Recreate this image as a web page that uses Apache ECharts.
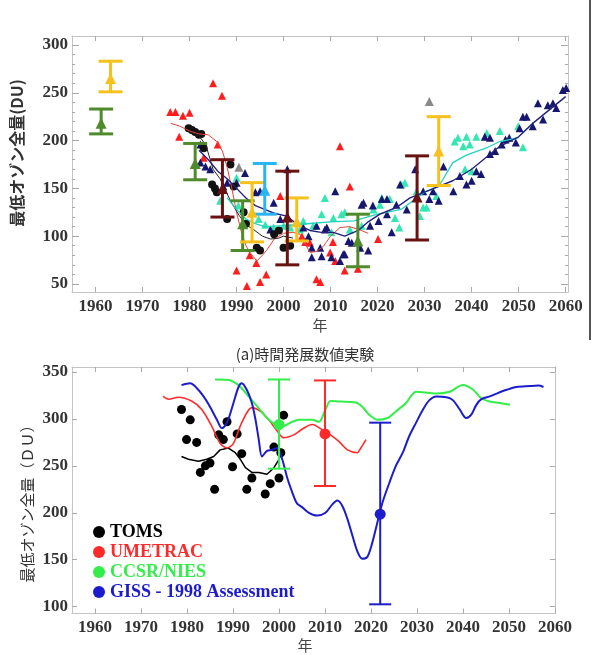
<!DOCTYPE html>
<html><head><meta charset="utf-8">
<script src="https://cdn.jsdelivr.net/npm/echarts@6/dist/echarts.min.js"></script>
<style>html,body{margin:0;padding:0;background:#fff}#c{width:592px;height:655px}</style>
</head><body><div id="c"></div>
<script>
// ---------- tick labels ----------
const xTickYears = [1960,1970,1980,1990,2000,2010,2020,2030,2040,2050,2060];
const topYTicks = [50,100,150,200,250,300];
const topYMinorTicks = [50,60,70,80,90,100,110,120,130,140,150,160,170,180,190,200,210,220,230,240,250,260,270,280,290,300];
const bottomYTicks = [100,150,200,250,300,350];

// ---------- panel (a): scatter [year, DU] ----------
const topRedTri = [[1975.9,230],[1977,230],[1978.6,226],[1980,229],[1977.8,204],[1985,260],[1986.9,247],[1986,196],[1983,182],
  [1990,64],[1992.2,48],[1995,52],[1996.3,60],[1994.2,72],[1992.8,80],[1999.3,142],
  [2003.9,100],[2004.6,94],[2005.6,93],[2007,55],[2007.8,52],[2009.9,83],[2010.5,94],[2011,74],[2012,194],[2013,64],[2014.1,152],[2015.8,66],[2020.1,97]];
const topNavyTri = [[1982.3,177],[1982.3,196],[1983.4,173],[1984.4,170],[1987.2,152],[1988,156],[1990,156],[1991.8,166],[1994,146],[1995,147],
  [1997.2,107],[1997.9,135],[1999.3,118],[2000.8,170],[2004.2,109],[2005.3,100],[2006,78],[2006,88],[2007,111],[2007.8,88],[2008.1,79],
  [2008.8,107],[2009.2,109],[2010.2,78],[2011,147],[2012,74],[2012.7,81],[2013,81],[2013.8,95],[2014.5,93],[2016.3,88],[2016.6,133],
  [2017,135],[2018,85],[2018.4,111],[2019,132],[2020.2,116],[2020.9,139],[2022,123],[2022,139],[2023,104],[2024,133],[2024.8,154],
  [2026.2,128],[2028,170],[2029.7,147],[2031,139],[2031.8,147],[2033,137],[2034,173],[2036.1,147],[2037.5,163],[2038.9,154],[2040,158],
  [2041,168],[2042,165],[2042.8,204],[2043.9,186],[2043.9,203],[2045,189],[2046.4,196],[2047.2,201],[2048,203],[2049.4,198],[2050.2,213],
  [2050.9,225],[2051.7,225],[2053,215],[2054.1,239],[2055.2,222],[2056.2,237],[2057.3,239],[2058,234],[2059.4,253],[2060.1,255]];
const topAquaTri = [[1986.5,137],[1990,161],[1990.4,132],[1994.7,118],[1996.1,112],[1997.9,109],[2000,111],[2001.4,109],[2003.5,107],
  [2004.2,116],[2006.3,111],[2008.1,123],[2008.8,140],[2010.2,104],[2010.6,119],[2012.3,123],[2013,125],[2014.1,107],[2016.6,111],
  [2019.1,128],[2020.5,133],[2020.9,140],[2022.6,139],[2023.7,119],[2024.6,109],[2025.1,154],[2025.8,156],[2028.3,147],[2029,121],
  [2029.7,130],[2030.4,130],[2032.5,142],[2036.4,199],[2037.1,203],[2038.2,194],[2038.9,204],[2038.6,170],[2040,168],[2039.6,196],
  [2041,204],[2043.2,208],[2046,210],[2049.9,215],[2050.9,193]];
const topBlackDots = [[1979.8,213],[1980.5,211],[1981.2,209],[1982,206],[1982.5,207],[1983,192],[1984.8,154],[1985.4,150],[1985.8,146],
  [1988.7,175],[1988,118],[1989.4,152],[1991.5,125],[1992,113],[1994.3,88],[1995,85],[1998,102],[1999,106],[2000,88],[2001.4,90]];
const topGrayTri = [[1990.5,172],[2031,241]];

// ---------- panel (a): lines ----------
const topRedLine = [[1976,218],[1978,215],[1980,210],[1982,207],[1984,206],[1985.8,199],[1987,189],[1988,172],[1989,150],[1990,125],
  [1991,105],[1992,90],[1993,82],[1994.3,74],[1995.5,80],[1996.5,86],[1998,97],[2000,103],[2002,104],[2003.5,102],[2005.6,83],
  [2007,84],[2008.4,89],[2010,100],[2012,109],[2014,110],[2016,107],[2018,103]];
const topBlackLine = [[1980.5,208],[1982,205],[1983.5,195],[1985,170],[1986.5,160],[1988.7,137],[1990.5,122],[1992,112],[1993.6,107],
  [1995.5,100],[1997.2,97],[1999,98],[2000,100],[2002,98]];
const topNavyLine = [[1982,190],[1984,180],[1986,168],[1988,160],[1990,150],[1992,140],[1994,132],[1996,128],[1998,124],[2000.7,121],
  [2003,112],[2005.6,106],[2008,104],[2010.6,104],[2013,100],[2015.9,106],[2018,115],[2020.5,123],[2024,130],[2026.9,140],[2030,146],
  [2033,152],[2036,158],[2040,170],[2043,182],[2046,194],[2050,204],[2053,218],[2056,230],[2060,246]];
const topAquaLine = [[1988,140],[1990,128],[1992,118],[1994,113],[1996,110],[2000,111],[2005,113],[2010,115],[2015,116],[2020,123],
  [2025,128],[2030,146],[2033,152],[2036,177],[2039,185],[2043,192],[2046,199],[2050,203]];

// ---------- panel (a): error bars [year, low, mid, high] ----------
const oliveErr = [[1961.2,207,218,233],[1981.2,159,176,197],[1991.3,85,113,137],[2015.8,68,95,123]];
const goldErr = [[1963.2,251,265,283],[1993.3,94,125,156],[2002.8,95,115,140],[2033,153,189,225]];
const maroonErr = [[1987,120,150,180],[2000.8,70,120,168],[2028.4,96,141,184]];
const skyErr = [[1996,123,148,176]];

// ---------- panel (b) ----------
const tomsDots = [[1978.8,310],[1980.7,299],[1979.9,278],[1982.1,275],[1982.9,243],[1984,250],[1985,253],[1986,225],[1986.9,283],
  [1987.9,278],[1988.7,297],[1989.9,249],[1990.9,284],[1991.9,263],[1993,225],[1994.1,237],[1997,220],[1998.1,231],[1998.9,270],
  [2000,237],[2000.4,264],[2001,304]];
const tomsLine = [[1978.8,260],[1980.3,257],[1982.5,255],[1984.3,257],[1985.8,260],[1987.2,267],[1989,269],[1990.5,264],[1991.6,257],
  [1992.7,248],[1994.1,243],[1995.6,243],[1997.4,241],[1998.9,248],[2000,257],[2000.7,267]];
const umetracLine = [[1974.8,324],[1976,321],[1978.1,323],[1981,319],[1983.2,310],[1985.4,292],[1987.2,274],[1988.7,269],[1990.1,274],
  [1991.9,296],[1994.1,312],[1996,308],[1997.8,299],[1999.6,287],[2001,280],[2003.2,283],[2005,289],[2007.2,294],[2009.8,287],
  [2011.2,283],[2013,276],[2014.9,267],[2017,264],[2017.8,269],[2018.9,278]];
const ccsrLine = [[1986.1,342],[1989,341.5],[1991.2,336],[1993.4,324],[1995.6,311.5],[1997.4,301],[1999.2,294],[2000.7,292],[2002.9,297],
  [2004.3,299],[2007.2,299],[2008.7,297],[2010.1,310],[2011.2,319],[2013.4,318.5],[2016.7,317.5],[2018.1,313],[2019.6,304.5],
  [2021.4,299],[2023.6,301],[2025.4,308],[2027.6,317],[2029.8,329],[2034.2,327],[2037.1,329],[2040,336],[2042.2,331],[2044,322],
  [2045.8,318.5],[2048,317],[2050.2,315]];
const gissLine = [[1978.8,336],[1980.7,338],[1982.1,333],[1983.6,324],[1985,313],[1986.5,299],[1987.6,290],[1988.7,296],[1990.1,317],
  [1991.2,334],[1991.9,338],[1993,331],[1994.1,317],[1994.9,299],[1995.6,278],[1996.3,260],[1997.4,266],[1998.5,267],[1999.6,269],
  [2000.7,257],[2001.8,237],[2002.9,221.5],[2003.9,210],[2005,206],[2006.5,200],[2008.3,197],[2010.1,200],[2011.6,209],[2012.7,213],
  [2013.8,207],[2014.9,193],[2016,175],[2017.1,158],[2018.1,151],[2019.2,153],[2020.3,168.5],[2021.4,190],[2022.5,211],[2024,232],
  [2025.4,250],[2026.9,264],[2028.3,281.5],[2029.8,296],[2031.3,310],[2032.7,320],[2034.2,324],[2036.4,323],[2037.8,320],[2039.3,310],
  [2040.7,301],[2041.8,304.5],[2042.9,315],[2044,321],[2045.8,324],[2047.3,327],[2049.5,331],[2051.6,334],[2054.5,335],[2056.4,335.5],[2057.5,334]];
const ccsrErr = [[2000,247,294,342]];
const umetracErr = [[2010,228.5,284,341]];
const gissErr = [[2022,102.5,198.5,296]];

// ---------- chart ----------
const chart = echarts.init(document.getElementById('c'), null, {renderer:'canvas'});
const SERIF = 'Liberation Serif';
const frame = '#c4c4c4';
const tickLabel = {show:true, formatter:v => '{t|' + Math.round(v) + '}',
  rich:{t:{fontFamily:SERIF, fontWeight:'bold', fontSize:17, color:'#333'}}};

function xAx(grid, min, max) {
  return [
    {type:'value', gridIndex:grid, min, max, position:'bottom',
      axisLine:{show:true, lineStyle:{color:frame}},
      axisTick:{show:true, inside:true, length:5, customValues:xTickYears, lineStyle:{color:'#aaa'}},
      axisLabel:Object.assign({customValues:xTickYears, margin:6}, tickLabel),
      splitLine:{show:false}},
    {type:'value', gridIndex:grid, min, max, position:'top',
      axisLine:{show:true, lineStyle:{color:frame}},
      axisTick:{show:true, inside:true, length:5, customValues:xTickYears, lineStyle:{color:'#aaa'}},
      axisLabel:{show:false}, splitLine:{show:false}}
  ];
}
function yAux(grid, min, max, pos, vals, len, line) {
  return {type:'value', gridIndex:grid, min, max, position:pos,
    axisLine:{show:line, lineStyle:{color:frame}},
    axisTick:{show:true, inside:true, length:len, customValues:vals, lineStyle:{color:'#aaa'}},
    axisLabel:{show:false}, splitLine:{show:false}};
}

const TOPMIN = 41.6, TOPMAX = 309.4, BOTMIN = 92.7, BOTMAX = 355.3;

const xAxes = [...xAx(0, 1955, 2060.5), ...xAx(1, 1955, 2060)];
const yAxes = [
  {type:'value', gridIndex:0, min:TOPMIN, max:TOPMAX, position:'left',
    axisLine:{show:true, lineStyle:{color:frame}},
    axisTick:{show:true, inside:true, length:7, customValues:topYTicks, lineStyle:{color:'#aaa'}},
    axisLabel:Object.assign({customValues:topYTicks, margin:4}, tickLabel),
    splitLine:{show:false}},
  yAux(0, TOPMIN, TOPMAX, 'left', topYMinorTicks, 3, false),
  yAux(0, TOPMIN, TOPMAX, 'right', topYMinorTicks, 3, true),
  yAux(0, TOPMIN, TOPMAX, 'right', topYTicks, 7, false),
  {type:'value', gridIndex:1, min:BOTMIN, max:BOTMAX, position:'left',
    axisLine:{show:true, lineStyle:{color:frame}},
    axisTick:{show:true, inside:true, length:5, customValues:bottomYTicks, lineStyle:{color:'#aaa'}},
    axisLabel:Object.assign({customValues:bottomYTicks, margin:4}, tickLabel),
    splitLine:{show:false}},
  yAux(1, BOTMIN, BOTMAX, 'right', bottomYTicks, 5, true)
];

function scatter(name, data, color, symbol, size, xi, yi, z) {
  return {type:'scatter', name, data, xAxisIndex:xi, yAxisIndex:yi, symbol, symbolSize:size,
    itemStyle:{color, opacity:1}, z:z||2, silent:true};
}
function line(name, data, color, width, xi, yi, smooth) {
  return {type:'line', name, data, xAxisIndex:xi, yAxisIndex:yi, showSymbol:false, symbol:'none',
    smooth: smooth||0, lineStyle:{color, width}, itemStyle:{color}, z:3, silent:true};
}
function errBars(name, data, color, lw, cap, xi, yi) {
  return {type:'custom', name, data, xAxisIndex:xi, yAxisIndex:yi, z:6, silent:true,
    encode:{x:0, y:[1,3]},
    renderItem:function(params, api){
      const x = api.value(0), lo = api.value(1), hi = api.value(3);
      const a = api.coord([x, lo]), b = api.coord([x, hi]);
      const st = {stroke:color, lineWidth:lw};
      return {type:'group', children:[
        {type:'line', shape:{x1:a[0], y1:a[1], x2:b[0], y2:b[1]}, style:st},
        {type:'line', shape:{x1:a[0]-cap, y1:a[1], x2:a[0]+cap, y2:a[1]}, style:st},
        {type:'line', shape:{x1:b[0]-cap, y1:b[1], x2:b[0]+cap, y2:b[1]}, style:st}
      ]};
    }};
}
const mid = d => d.map(r => [r[0], r[2]]);

const C = {red:'#ff1e1e', navy:'#16166e', aqua:'#33e6b2', gray:'#8a8a8a', black:'#111',
  olive:'#4f8a2b', gold:'#f6c11c', maroon:'#6a1212', sky:'#2ab4f2',
  lred:'#e8433a', lnavy:'#22227e', laqua:'#22d2c0', lblack:'#222',
  bRed:'#ff2a2a', bGreen:'#33ee4a', bBlue:'#1c1ccc', bBlack:'#000'};

const series = [
  scatter('a-red', topRedTri, C.red, 'triangle', 8, 0, 0),
  scatter('a-aqua', topAquaTri, C.aqua, 'triangle', 8, 0, 0),
  scatter('a-navy', topNavyTri, C.navy, 'triangle', 8, 0, 0),
  scatter('a-black', topBlackDots, C.black, 'circle', 8, 0, 0),
  scatter('a-gray', topGrayTri, C.gray, 'triangle', 9, 0, 0),
  line('a-redline', topRedLine, C.lred, 1, 0, 0),
  line('a-blackline', topBlackLine, C.lblack, 1, 0, 0),
  line('a-aqualine', topAquaLine, C.laqua, 1.3, 0, 0),
  line('a-navyline', topNavyLine, C.lnavy, 1.4, 0, 0),
  errBars('a-olive-err', oliveErr, C.olive, 3, 12, 0, 0),
  errBars('a-gold-err', goldErr, C.gold, 3, 12, 0, 0),
  errBars('a-maroon-err', maroonErr, C.maroon, 3, 12, 0, 0),
  errBars('a-sky-err', skyErr, C.sky, 3, 12, 0, 0),
  scatter('a-olive-mid', mid(oliveErr), C.olive, 'triangle', 11, 0, 0, 7),
  scatter('a-gold-mid', mid(goldErr), C.gold, 'triangle', 11, 0, 0, 7),
  scatter('a-maroon-mid', mid(maroonErr), C.maroon, 'triangle', 11, 0, 0, 7),
  scatter('a-sky-mid', mid(skyErr), C.sky, 'triangle', 11, 0, 0, 7),

  scatter('TOMS', tomsDots, C.bBlack, 'circle', 9, 2, 4),
  line('TOMS', tomsLine, C.bBlack, 1.5, 2, 4),
  line('UMETRAC', umetracLine, C.bRed, 1.6, 2, 4, 0.3),
  line('CCSR/NIES', ccsrLine, C.bGreen, 2, 2, 4, 0.3),
  line('GISS - 1998 Assessment', gissLine, C.bBlue, 2, 2, 4, 0.3),
  errBars('b-ccsr-err', ccsrErr, C.bGreen, 2, 11, 2, 4),
  errBars('b-umetrac-err', umetracErr, C.bRed, 2, 11, 2, 4),
  errBars('b-giss-err', gissErr, C.bBlue, 2, 11, 2, 4),
  scatter('b-ccsr-mid', mid(ccsrErr), C.bGreen, 'circle', 11, 2, 4, 7),
  scatter('b-umetrac-mid', mid(umetracErr), C.bRed, 'circle', 11, 2, 4, 7),
  scatter('b-giss-mid', mid(gissErr), C.bBlue, 'circle', 11, 2, 4, 7)
];

chart.setOption({
  animation:false,
  backgroundColor:'#fff',
  grid:[
    {left:72, top:36, width:496, height:256},
    {left:72, top:367, width:483, height:246.5}
  ],
  xAxis:xAxes,
  yAxis:yAxes,
  legend:{
    orient:'vertical', left:88, top:518, icon:'circle', itemWidth:12, itemHeight:12, itemGap:2,
    selectedMode:false,
    textStyle:{fontFamily:SERIF, fontWeight:'bold', fontSize:18, lineHeight:18},
    data:[
      {name:'TOMS', textStyle:{color:C.bBlack}},
      {name:'UMETRAC', textStyle:{color:C.bRed}},
      {name:'CCSR/NIES', textStyle:{color:C.bGreen}},
      {name:'GISS - 1998 Assessment', textStyle:{color:C.bBlue}}
    ]
  },
  graphic:[
    {type:'text', style:{text:'年', font:'15px "Noto Sans CJK JP"', fill:'#444', x:320, y:325, align:'center', verticalAlign:'middle'}},
    {type:'text', style:{text:'(a)時間発展数値実験', font:'15px "Noto Sans CJK JP"', fill:'#333', x:305, y:354, align:'center', verticalAlign:'middle'}},
    {type:'text', style:{text:'年', font:'15px "Noto Sans CJK JP"', fill:'#444', x:305, y:645, align:'center', verticalAlign:'middle'}},
    {type:'text', rotation:Math.PI/2, x:17, y:153, style:{text:'最低オゾン全量(DU)', font:'bold 16px "Noto Sans CJK JP"', fill:'#333', align:'center', verticalAlign:'middle'}},
    {type:'text', rotation:Math.PI/2, x:27, y:500, style:{text:'最低オゾン全量（ＤＵ）', font:'15px "Noto Sans CJK JP"', fill:'#333', align:'center', verticalAlign:'middle'}},
    {type:'line', shape:{x1:590, y1:0, x2:590, y2:340}, style:{stroke:'#555', lineWidth:2}}
  ],
  series
});
</script>
</body></html>
